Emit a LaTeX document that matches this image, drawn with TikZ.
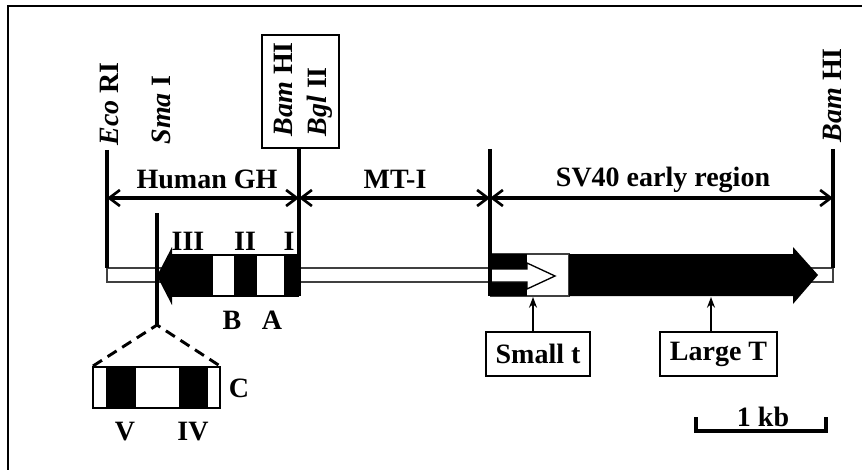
\documentclass[tikz,border=0pt]{standalone}
\usepackage{fontspec}
\setmainfont{Liberation Serif}
\usetikzlibrary{arrows.meta}

\begin{document}
\begin{tikzpicture}[
    x=0.75pt, y=-0.75pt,
    lbl/.style={font=\fontsize{21}{25}\selectfont\bfseries, inner sep=1pt},
    site/.style={lbl, rotate=90, anchor=west},
    cut/.style={line width=3pt},
    span/.style={line width=2.8pt, {Straight Barb[length=8pt,width=12pt,line width=2pt]}-{Straight Barb[length=8pt,width=12pt,line width=2pt]}},
    tag/.style={lbl, draw, line width=1.1pt, minimum height=33pt},
    ptr/.style={line width=1.5pt, -{Stealth[length=8pt,width=6pt]}},
    vec/.style={draw=black!75, line width=1pt, fill=white}
]
\useasboundingbox (0,0) rectangle (862,470);

% Frame
\draw[line width=1.5pt] (8,470) -- (8,6) -- (862,6);

% Restriction sites
\node[site] (eco) at (109,147) {\textit{Eco} RI};
\node[site] (sma) at (161,146) {\textit{Sma} I};
\node[site] (bam1) at (283,138) {\textit{Bam} HI};
\node[site] (bgl) at (320,138) {\textit{Bgl} II};
\node[site] (bam2) at (832,144) {\textit{Bam} HI};
\draw[line width=1.1pt] (262,35) rectangle (339,148);

% Cut lines
\coordinate (cEco) at (107,150);
\coordinate (cBam) at (299,148);
\coordinate (cMt) at (490,149);
\coordinate (cEnd) at (833,149);

% Vector backbone
\draw[vec] (107,268) rectangle (833,282);

% Spans
\draw[span] (cEco |- 0,198) -- (cBam |- 0,198);
\draw[span] (cBam |- 0,198) -- (cMt |- 0,198);
\draw[span] (cMt |- 0,198) -- (cEnd |- 0,198);
\node[lbl] (hgh) at (207,179) {Human GH};
\node[lbl] (mt) at (395,179) {MT-I};
\node[lbl] (sv) at (663,180) {SV40 early region};

% Human GH gene
\fill (299,255) -- (172,255) -- (172,247) -- (157,276) -- (172,305) -- (172,296) -- (299,296) -- cycle;
\fill[white] (213,256) rectangle (234,295);
\fill[white] (257,256) rectangle (284,295);
\draw[line width=0.8pt] (172,255) -- (299,255) (172,296) -- (299,296);
\node[lbl] (ex3) at (188,241) {III};
\node[lbl] (ex2) at (245,241) {II};
\node[lbl] (ex1) at (289,241) {I};
\node[lbl] (ia) at (272,320) {A};
\node[lbl] (ib) at (232,320) {B};

% SV40 genes
\draw[vec] (491,254) rectangle (569,296);
\fill (491,254) rectangle (527,269);
\fill (491,282) rectangle (527,296);
\draw[line width=1pt, fill=white] (491,269) -- (527,269) -- (527,263) -- (555,276) -- (527,289) -- (527,282) -- (491,282);
\fill (569,254) -- (793,254) -- (793,247) -- (818,275) -- (793,304) -- (793,296) -- (569,296) -- cycle;

% Vertical cut lines
\draw[cut] (cEco) -- (107,268);
\draw[cut] (cBam) -- (299,296);
\draw[cut] (cMt) -- (490,296);
\draw[cut] (cEnd) -- (833,268);
\draw[cut] (157,213) coordinate (smaTop) -- (157,325) coordinate (smaEnd);

% Intron C
\draw[line width=1.1pt] (93,367) rectangle (220,408);
\fill (106,367) rectangle (136,408);
\fill (179,367) rectangle (208,408);
\draw[line width=2.2pt, dash pattern=on 8pt off 5pt] (93,366) -- (smaEnd) -- (220,366);
\node[lbl] (ic) at (239,388) {C};
\node[lbl] (ex5) at (125,432) {V};
\node[lbl] (ex4) at (193,432) {IV};

% Gene products
\node[tag, minimum width=78pt] (st) at (538,354) {Small t};
\node[tag, minimum width=88pt] (lt) at (718.5,354) {Large T};
\coordinate (stTip) at (533,297);
\coordinate (ltTip) at (711,297);
\draw[ptr] (stTip |- st.north) -- (stTip);
\draw[ptr] (ltTip |- lt.north) -- (ltTip);

% Scale bar
\draw[line width=3pt] (696,417) -- (696,431) -- (826,431) -- (826,417);
\node[lbl] (kb) at (763,417) {1 kb};

\end{tikzpicture}
\end{document}
